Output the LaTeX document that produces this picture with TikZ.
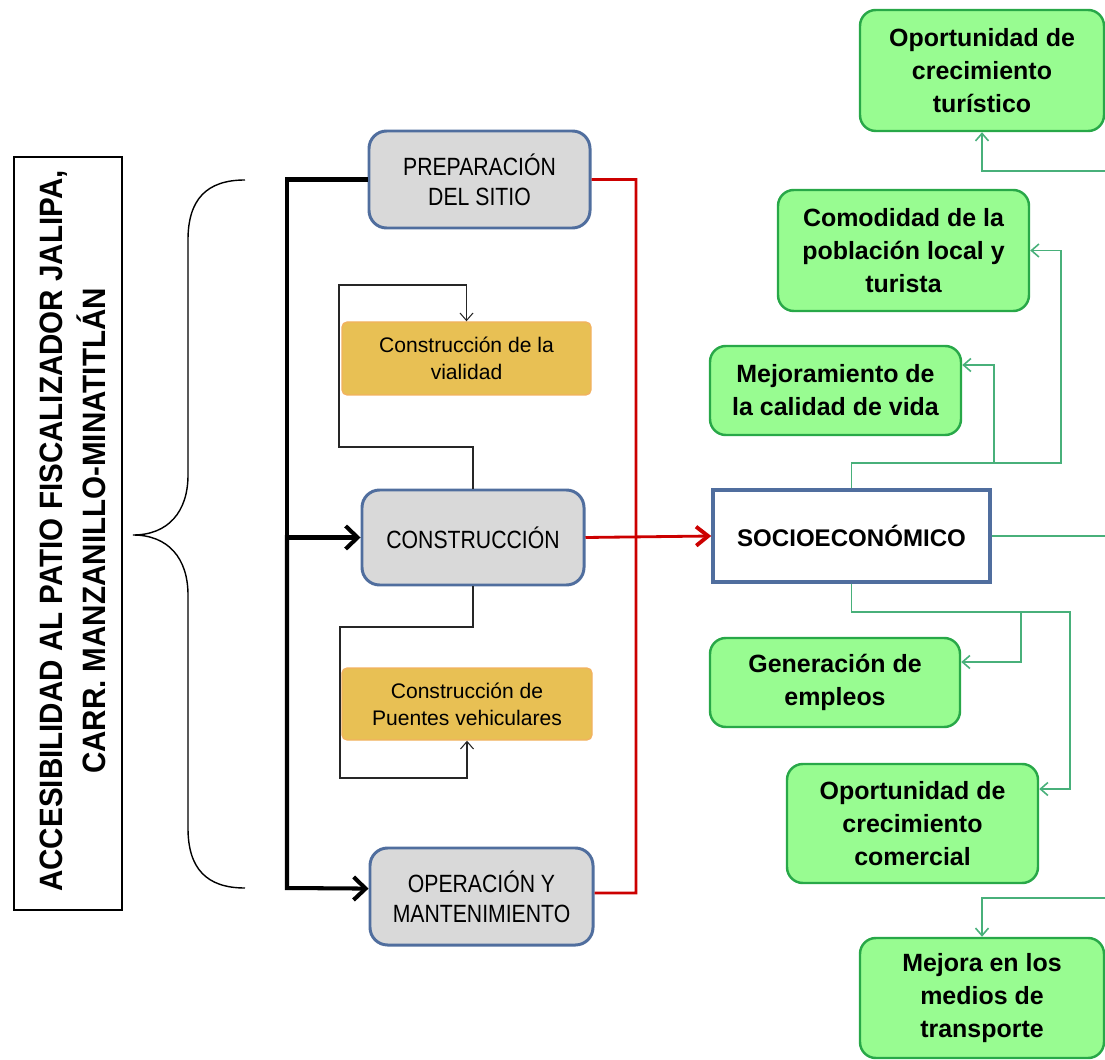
\documentclass[tikz,border=0pt]{standalone}
\usepackage{fontspec}
\setmainfont{Liberation Sans}
\newfontfamily\narrowfont[FakeStretch=0.915]{Liberation Sans}
\newfontfamily\stagefont[FakeStretch=0.85]{Liberation Sans}
\usetikzlibrary{arrows.meta}
\definecolor{boxgray}{RGB}{217,217,217}
\definecolor{boxblue}{RGB}{80,110,158}
\definecolor{gold}{RGB}{232,192,84}
\definecolor{goldline}{RGB}{242,178,96}
\definecolor{leaf}{RGB}{152,252,145}
\definecolor{leafline}{RGB}{40,168,72}
\definecolor{linkgreen}{RGB}{72,176,122}
\definecolor{flowred}{RGB}{204,0,0}
\begin{document}
\begin{tikzpicture}[x=0.02cm,y=-0.02cm,
  sz/.style 2 args={minimum width=#1*0.02cm,minimum height=#2*0.02cm},
  stage/.style={draw=boxblue,line width=1.7pt,fill=boxgray,rounded corners=10pt,
    align=center,inner sep=0pt,font=\stagefont\fontsize{14.2}{17}\selectfont},
  task/.style={draw=goldline,line width=0.8pt,fill=gold,rounded corners=3pt,
    align=center,inner sep=0pt,font=\fontsize{12}{15.4}\selectfont},
  effect/.style={draw=leafline,line width=1.4pt,fill=leaf,rounded corners=9pt,
    align=center,inner sep=0pt,font=\bfseries\fontsize{14.2}{18.8}\selectfont},
  hub/.style={draw=boxblue,line width=2pt,fill=white,align=center,inner sep=0pt,
    font=\bfseries\fontsize{13.7}{16}\selectfont},
  trunk/.style={line width=2.3pt,black,line join=miter},
  trunkarrow/.style={trunk,-{Straight Barb[length=2.4mm,width=4.6mm,line width=2.3pt]}},
  impact/.style={line width=1.6pt,flowred},
  loop/.style={line width=0.6pt,black!85,-{Straight Barb[length=1.5mm,width=2.6mm]}},
  link/.style={line width=0.9pt,linkgreen},
  linkarrow/.style={link,-{Straight Barb[length=1.5mm,width=2.6mm]}}
]
\useasboundingbox (0,0) rectangle (1105,1060);

% project title
\node[draw=black,line width=0.8pt,sz={108}{753},inner sep=0pt] (titlebox) at (68,533.5) {};
\node[rotate=90,align=center,font=\narrowfont\bfseries\fontsize{18.4}{24.5}\selectfont] (title) at (73,531)
  {ACCESIBILIDAD AL PATIO FISCALIZADOR JALIPA,\\CARR. MANZANILLO-MINATITLÁN};

% brace grouping the project stages
\draw[line width=0.8pt] (245,180) .. controls (206,180) and (188,200) .. (188,240)
  -- (188,475) .. controls (188,512) and (168,535) .. (133,535)
  .. controls (168,535) and (188,558) .. (188,595)
  -- (188,828) .. controls (188,868) and (206,888) .. (245,888);

% project stages
\node[stage,sz={221}{97}] (prep) at (479.5,179.5) {PREPARACIÓN\\DEL SITIO};
\node[stage,sz={222}{95}] (constr) at (473,537.5) {CONSTRUCCIÓN};
\node[stage,sz={223}{97}] (oper) at (481.5,896.5) {OPERACIÓN Y\\MANTENIMIENTO};

% construction activities
\node[task,sz={249}{73}] (via) at (466.5,358.5) {Construcción de la\\vialidad};
\node[task,sz={250}{72}] (puentes) at (467,704) {Construcción de\\Puentes vehiculares};

% socioeconomic component
\node[hub,sz={277}{92}] (socio) at (851.5,536) {SOCIOECONÓMICO};

% effects
\node[effect,sz={244}{121}] (tur) at (982,70.5) {Oportunidad de\\crecimiento\\turístico};
\node[effect,sz={251}{121}] (comod) at (903.5,250.5) {Comodidad de la\\población local y\\turista};
\node[effect,sz={251}{89}] (mejor) at (835.5,390.5) {Mejoramiento de\\la calidad de vida};
\node[effect,sz={250}{89}] (gener) at (835,682.5) {Generación de\\empleos};
\node[effect,sz={251}{119}] (comer) at (912.5,823.5) {Oportunidad de\\crecimiento\\comercial};
\node[effect,sz={244}{120}] (transp) at (982,998) {Mejora en los\\medios de\\transporte};

% stage sequence
\draw[trunk] (prep.west) -| (287,540);
\draw[trunkarrow] (287,537.5) -- (constr.west);
\draw[trunkarrow] (287,535) -- (287,888) -- ([yshift=4.5pt]oper.west);

% stages feeding the socioeconomic component
\draw[impact] (prep.east) -| (636,893) -- ([yshift=2pt]oper.east);
\draw[impact,-{Straight Barb[length=2.4mm,width=3.8mm,line width=2.2pt]}] (constr.east) -- (socio.west);

% construction loops
\draw[loop] (constr.north) -- (473,447) -- (339,447) -- (339,285) -| (via.north);
\draw[loop] (constr.south) -- (473,627) -- (340,627) -- (340,778) -| (puentes.south);

% links to the effects
\draw[linkarrow] (socio.north) |- (1061,463) |- (comod.east);
\draw[linkarrow] (994,463) |- (mejor.east |- 0,365);
\draw[link] (socio.east) -- (1105,536);
\draw[linkarrow] (1105,171) -| (tur.south);
\draw[linkarrow] (socio.south) |- (1070,612) |- (comer.east |- 0,789);
\draw[linkarrow] (1021,612) |- (gener.east |- 0,662);
\draw[linkarrow] (1105,898) -| (transp.north);
\end{tikzpicture}
\end{document}
